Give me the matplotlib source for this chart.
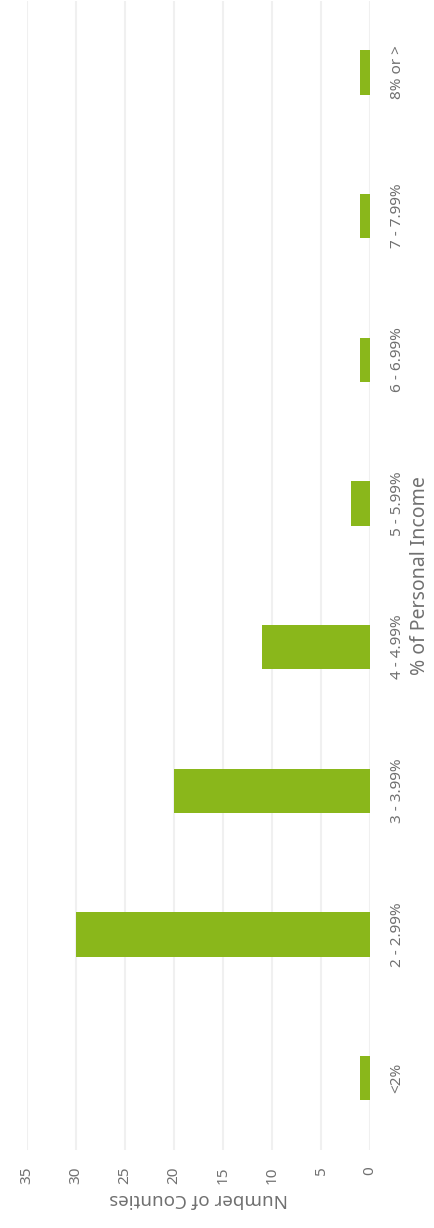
import numpy as np
import matplotlib
matplotlib.use("Agg")
from matplotlib import pyplot as plt

# categories bottom to top
categories = ["<2%", "2 - 2.99%", "3 - 3.99%", "4 - 4.99%", "5 - 5.99%",
              "6 - 6.99%", "7 - 7.99%", "8% or >"]
counties = [1, 30, 20, 11, 2, 1, 1, 1]
value_ticks = [0, 5, 10, 15, 20, 25, 30, 35]

bar_color = "#8ab71b"
text_color = "#707070"

plt.rcParams['font.family'] = ['Noto Sans', 'DejaVu Sans']

fig = plt.figure(figsize=(4.34, 12.28), dpi=100)
ax = fig.add_axes([0.062, 0.0635, 0.791, 0.936])

pos = np.arange(len(categories))
ax.barh(pos, counties, height=0.31, color=bar_color, zorder=3)

ax.set_xlim(35, 0)
ax.set_ylim(-0.5, len(categories) - 0.5)
ax.set_xticks(value_ticks)
ax.set_xticklabels([str(v) for v in value_ticks], rotation=90,
                   fontsize=11, color=text_color)
ax.set_yticks(pos)
ax.set_yticklabels(categories, rotation=90, va="center",
                   fontsize=11, color=text_color)
ax.yaxis.tick_right()
ax.yaxis.set_label_position("right")
ax.tick_params(axis="both", length=0)
ax.tick_params(axis="x", pad=12)
ax.tick_params(axis="y", pad=14)

ax.grid(axis="x", color="#f0f0f0", linewidth=1.5, zorder=0)
for s in ax.spines.values():
    s.set_visible(False)

ax.set_xlabel("Number of Counties", rotation=180, fontsize=13.5,
              color=text_color, labelpad=4)
ax.set_ylabel("% of Personal Income", rotation=90, fontsize=14,
              color=text_color, labelpad=4)

fig.savefig("out.png", dpi=100)
